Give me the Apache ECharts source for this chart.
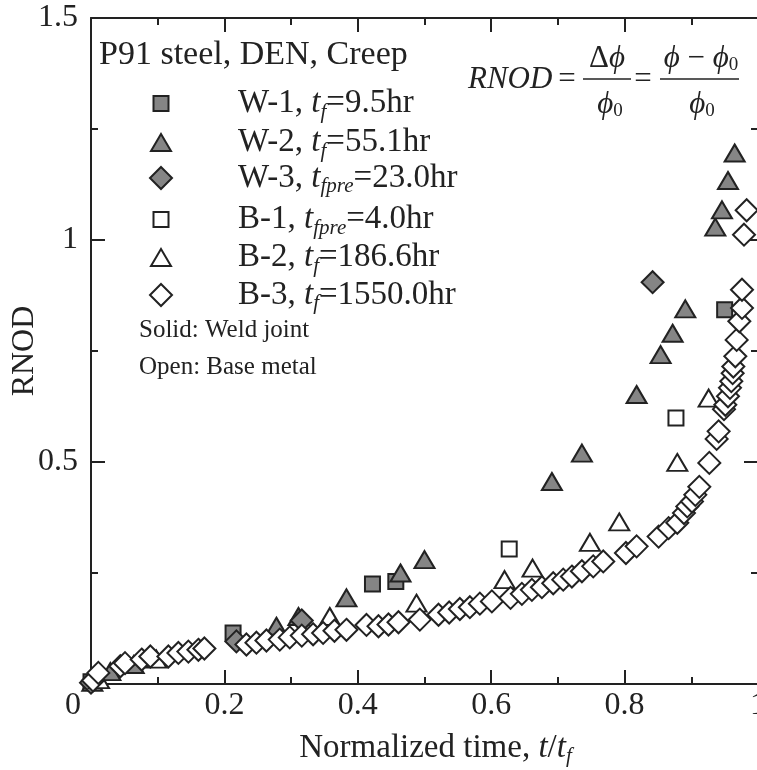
<!DOCTYPE html>
<html><head><meta charset="utf-8">
<script src="https://cdn.jsdelivr.net/npm/echarts@6/dist/echarts.min.js"></script>
<style>html,body{margin:0;padding:0;background:#fff}#c{width:757px;height:770px}</style>
</head><body><div id="c"></div>
<script>
// ---- data ----
const xTicks = [0, 0.2, 0.4, 0.6, 0.8, 1];
const yTicks = [0, 0.5, 1, 1.5];
const seriesNames = ['W-1', 'W-2', 'W-3', 'B-1', 'B-2', 'B-3'];
const legendLabels = [
  'W-1, {i|t}{s|f}=9.5hr',
  'W-2, {i|t}{s|f}=55.1hr',
  'W-3, {i|t}{s|fpre}=23.0hr',
  'B-1, {i|t}{s|fpre}=4.0hr',
  'B-2, {i|t}{s|f}=186.6hr',
  'B-3, {i|t}{s|f}=1550.0hr'
];
const w1 = [[0.000,0.005],[0.213,0.115],[0.422,0.225],[0.457,0.231],[0.950,0.843]];
const w2 = [[0.002,0.004],[0.029,0.028],[0.064,0.044],[0.278,0.130],[0.311,0.152],[0.383,0.194],[0.464,0.250],[0.500,0.280],[0.691,0.456],[0.736,0.520],[0.818,0.652],[0.854,0.742],[0.872,0.790],[0.891,0.845],[0.936,1.029],[0.946,1.068],[0.955,1.134],[0.965,1.196]];
const w3 = [[0.000,0.003],[0.218,0.096],[0.316,0.143],[0.842,0.905]];
const b1 = [[0.627,0.304],[0.877,0.599]];
const b2 = [[0.012,0.010],[0.098,0.056],[0.358,0.152],[0.488,0.182],[0.620,0.235],[0.662,0.261],[0.748,0.319],[0.792,0.365],[0.879,0.499],[0.926,0.644]];
const b3 = [[0.003,0.008],[0.011,0.025],[0.044,0.040],[0.051,0.047],[0.076,0.055],[0.089,0.062],[0.116,0.062],[0.131,0.070],[0.146,0.073],[0.161,0.077],[0.170,0.080],[0.233,0.089],[0.248,0.093],[0.263,0.098],[0.283,0.100],[0.298,0.105],[0.316,0.109],[0.333,0.112],[0.348,0.115],[0.365,0.120],[0.383,0.122],[0.413,0.133],[0.431,0.130],[0.446,0.134],[0.461,0.139],[0.493,0.145],[0.521,0.156],[0.537,0.161],[0.553,0.169],[0.568,0.173],[0.583,0.181],[0.601,0.186],[0.629,0.194],[0.646,0.203],[0.661,0.212],[0.676,0.218],[0.693,0.227],[0.708,0.235],[0.721,0.242],[0.736,0.254],[0.753,0.265],[0.768,0.276],[0.802,0.295],[0.818,0.310],[0.851,0.332],[0.866,0.351],[0.879,0.363],[0.889,0.385],[0.894,0.400],[0.901,0.411],[0.906,0.426],[0.912,0.444],[0.927,0.498],[0.938,0.552],[0.941,0.569],[0.949,0.619],[0.951,0.629],[0.955,0.648],[0.958,0.667],[0.960,0.682],[0.962,0.700],[0.963,0.715],[0.966,0.738],[0.968,0.775],[0.972,0.817],[0.976,0.847],[0.976,0.888],[0.979,1.012],[0.983,1.067]];
const seriesData = [w1, w2, w3, b1, b2, b3];

// ---- styles ----
const FONT = 'Liberation Serif';
const INK = '#222';
const GRAY = '#858585';
const symbols = ['rect', 'triangle', 'diamond', 'rect', 'triangle', 'diamond'];
const symSizes = [[15,15], [20,17], [22,22], [15,15], [20,17], [22,22]];
const fills = [GRAY, GRAY, GRAY, '#fff', '#fff', '#fff'];
const legendY = [92, 132, 170, 208, 247, 287];

const richLegend = {
  i: {fontFamily: FONT, fontStyle: 'italic', fontSize: 33, lineHeight: 38, color: INK},
  s: {fontFamily: FONT, fontStyle: 'italic', fontSize: 21, lineHeight: 16, verticalAlign: 'bottom', color: INK}
};

const axisCommon = (pos, show) => ({
  type: 'value', position: pos,
  axisLine: {show: true, onZero: false, lineStyle: {color: INK, width: 2}},
  axisTick: {show: true, inside: true, length: 14, lineStyle: {color: INK, width: 2}},
  minorTick: {show: true, splitNumber: 2, length: 7, lineStyle: {color: INK, width: 2}},
  splitLine: {show: false}, minorSplitLine: {show: false},
  axisLabel: {show: show}
});

const xAxes = [
  Object.assign(axisCommon('bottom', true), {
    min: xTicks[0], max: xTicks[xTicks.length - 1], interval: xTicks[1] - xTicks[0],
    name: 'Normalized time, {i|t}/{i|t}{s|f}', nameLocation: 'middle', nameGap: 45, nameMoveOverlap: false,
    nameTextStyle: {fontFamily: FONT, fontSize: 33, lineHeight: 38, color: INK, padding: [0,0,0,22], rich: richLegend},
    axisLabel: {show: true, fontFamily: FONT, fontSize: 32, color: INK, margin: 6,
      formatter: v => v === 0 ? '{z|0}' : String(v),
      rich: {z: {fontFamily: FONT, fontSize: 32, color: INK, padding: [0, 36, 0, 0]}}}
  }),
  Object.assign(axisCommon('top', false), {min: xTicks[0], max: xTicks[xTicks.length - 1], interval: xTicks[1] - xTicks[0]})
];
const yAxes = [
  Object.assign(axisCommon('left', true), {
    min: yTicks[0], max: yTicks[yTicks.length - 1], interval: yTicks[1] - yTicks[0],
    name: 'RNOD', nameLocation: 'middle', nameGap: 50, nameRotate: 90, nameMoveOverlap: false,
    nameTextStyle: {fontFamily: FONT, fontSize: 32, color: INK},
    axisLabel: {show: true, fontFamily: FONT, fontSize: 32, color: INK, margin: 13,
      formatter: v => v === 0 ? '' : String(v)}
  }),
  Object.assign(axisCommon('right', false), {min: yTicks[0], max: yTicks[yTicks.length - 1], interval: yTicks[1] - yTicks[0]})
];

const series = seriesNames.map((n, i) => ({
  name: n, type: 'scatter', xAxisIndex: 0, yAxisIndex: 0,
  data: seriesData[i], symbol: symbols[i], symbolSize: symSizes[i],
  itemStyle: {color: fills[i], borderColor: INK, borderWidth: 2, opacity: 1},
  emphasis: {disabled: true}, z: 2 + i
}));

const legends = seriesNames.map((n, i) => {
  const w = symSizes[i][0], h = symSizes[i][1];
  return {
    data: [n], left: 160 - w / 2, top: legendY[i] - h / 2,
    itemWidth: w, itemHeight: h, padding: 0, selectedMode: false,
    itemStyle: {borderWidth: 2, borderColor: INK},
    formatter: () => legendLabels[i],
    textStyle: {fontFamily: FONT, fontSize: 33, lineHeight: 38, color: INK,
      padding: [0, 0, 0, 72 - w / 2], rich: richLegend}
  };
});

const eqRich = {
  i: {fontFamily: FONT, fontStyle: 'italic', fontSize: 31, color: INK},
  u: {fontFamily: FONT, fontSize: 31, color: INK},
  s: {fontFamily: FONT, fontSize: 19, color: INK, verticalAlign: 'bottom', lineHeight: 14}
};
const T = (x, y, text, size, extra) => ({
  type: 'text', x: x, y: y, z: 20,
  style: Object.assign({text: text, fontFamily: FONT, fontSize: size, fill: INK, align: 'left', verticalAlign: 'middle'}, extra || {})
});
const L = (x1, x2, y) => ({type: 'line', z: 20, shape: {x1: x1, y1: y, x2: x2, y2: y}, style: {stroke: INK, lineWidth: 1.5}});

const graphic = [
  T(99, 55, 'P91 steel, DEN, Creep', 34),
  T(139, 330, 'Solid: Weld joint', 25),
  T(139, 367, 'Open: Base metal', 25),
  T(468, 80, 'RNOD', 31, {fontStyle: 'italic'}),
  T(567, 80, '=', 31, {align: 'center'}),
  L(583, 631, 79),
  T(607, 59, '{u|Δ}{i|ϕ}', 31, {align: 'center', rich: eqRich}),
  T(610, 105, '{i|ϕ}{s|0}', 31, {align: 'center', rich: eqRich}),
  T(643, 80, '=', 31, {align: 'center'}),
  L(660, 739, 79),
  T(701, 59, '{i|ϕ}{u| − }{i|ϕ}{s|0}', 31, {align: 'center', rich: eqRich}),
  T(702, 105, '{i|ϕ}{s|0}', 31, {align: 'center', rich: eqRich})
];

const chart = echarts.init(document.getElementById('c'), null, {renderer: 'canvas'});
chart.setOption({
  animation: false,
  backgroundColor: '#fff',
  grid: {left: 91, top: 18, width: 667, height: 666, containLabel: false, outerBoundsMode: 'none'},
  xAxis: xAxes, yAxis: yAxes,
  legend: legends,
  graphic: graphic,
  series: series
});
</script></body></html>
